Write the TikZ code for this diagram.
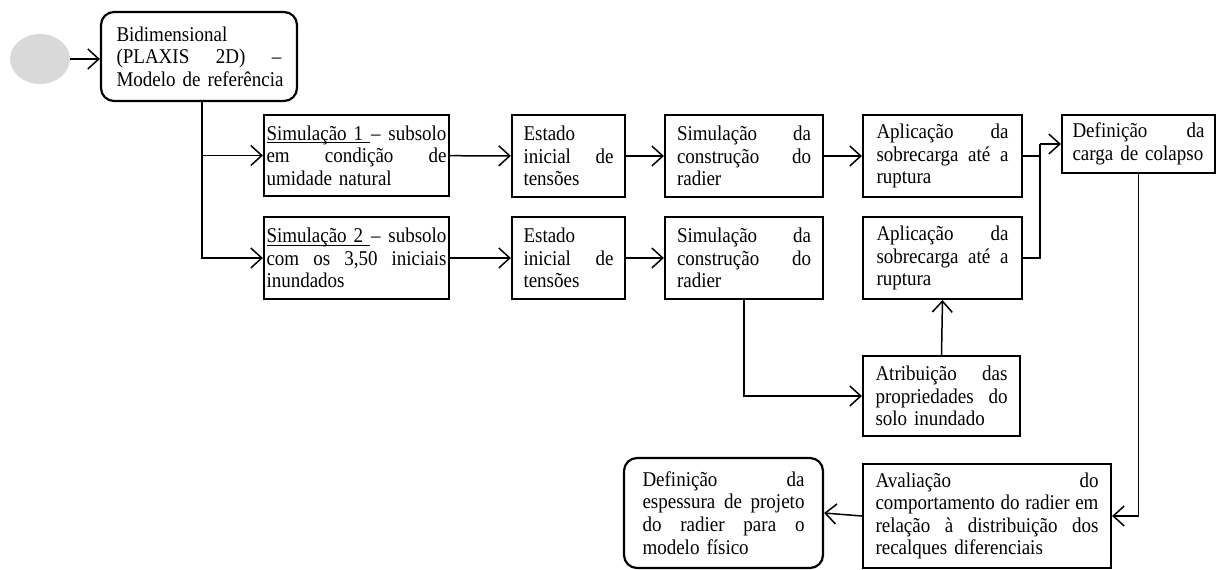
\documentclass[tikz,border=0pt]{standalone}
\usepackage{fontspec}
\setmainfont{Liberation Serif}[FakeStretch=0.905]
\usetikzlibrary{arrows.meta,shapes.geometric}
\definecolor{startgray}{RGB}{217,217,217}
\newcommand{\myul}[1]{\setbox0\hbox{#1}\rlap{\rule[-3pt]{\wd0}{1pt}}\box0}
\begin{document}
\begin{tikzpicture}[x=1pt,y=-1pt,
  box/.style={draw,line width=2.2pt,inner sep=0pt,align=left,font=\fontsize{21}{22.6}\selectfont},
  rbox/.style={box,rounded corners=13pt},
  conn/.style={line width=1.5pt},
  arr/.style={line width=1.5pt,-{Straight Barb[length=11pt,width=20pt]}}]
\useasboundingbox (0,0) rectangle (1218,570);

\node[ellipse,fill=startgray,minimum width=60pt,minimum height=50pt,inner sep=0pt] (start) at (40,59) {};

\node[rbox,minimum width=196pt,minimum height=89pt,text width=165pt] (b1) at (199,56.5)
  {Bidimensional\\ (PLAXIS\hfill 2D)\hfill –\\ \mbox{Modelo de referência}};

\node[box,minimum width=185pt,minimum height=81pt,text width=180pt] (s1) at (356.5,155.5)
  {\myul{Simulação 1 }\hfill– \hfill subsolo\\ em\hfill condição\hfill de\\ \mbox{umidade natural}};
\node[box,minimum width=185pt,minimum height=82pt,text width=180pt] (s2) at (356.5,258)
  {\myul{Simulação 2 }\hfill– \hfill subsolo\\ com\hfill os\hfill 3,50\hfill iniciais\\ inundados};

\node[box,minimum width=113pt,minimum height=82pt,text width=90pt] (e1) at (568.5,156)
  {Estado\\ inicial\hfill de\\ tensões};
\node[box,minimum width=113pt,minimum height=82pt,text width=90pt] (e2) at (568.5,258)
  {Estado\\ inicial\hfill de\\ tensões};

\node[box,minimum width=158pt,minimum height=82pt,text width=134pt] (c1) at (744,156)
  {Simulação\hfill da\\ construção\hfill do\\ radier};
\node[box,minimum width=158pt,minimum height=82pt,text width=134pt] (c2) at (744,258)
  {Simulação\hfill da\\ construção\hfill do\\ radier};

\node[box,minimum width=159pt,minimum height=82pt,text width=132pt] (a1) at (942.5,156)
  {Aplicação\hfill da\\ sobrecarga\hfill até\hfill a\\ ruptura};
\node[box,minimum width=159pt,minimum height=82pt,text width=132pt] (a2) at (942.5,258)
  {Aplicação\hfill da\\ sobrecarga\hfill até\hfill a\\ ruptura};

\node[box,minimum width=153pt,minimum height=58pt,text width=132pt] (d1) at (1138.5,144)
  {Definição\hfill da\\ \mbox{carga de colapso}};

\node[box,minimum width=157pt,minimum height=80pt,text width=132pt] (at) at (941.5,396)
  {Atribuição\hfill das\\ propriedades\hfill do\\ \mbox{solo inundado}};

\node[box,minimum width=248pt,minimum height=104pt,text width=223pt] (av) at (987,516)
  {Avaliação\hfill do\\ comportamento\hfill do\hfill radier\hfill em\\ relação\hfill à\hfill distribuição\hfill dos\\ \mbox{recalques diferenciais}};

\node[rbox,minimum width=199pt,minimum height=110pt,text width=162pt] (de) at (723.5,513)
  {Definição\hfill da\\ espessura\hfill de\hfill projeto\\ do\hfill radier\hfill para\hfill o\\ \mbox{modelo físico}};

\coordinate (j) at (1040,144);

\draw[arr] (start.east) -- (b1.west |- start.east);
\draw[arr] ([xshift=3pt]b1.south) |- (s1.west);
\draw[arr] ([xshift=3pt]b1.south) |- (s2.west);
\draw[arr] (s1) -- (e1);
\draw[arr] (e1) -- (c1);
\draw[arr] (c1) -- (a1);
\draw[arr] (s2) -- (e2);
\draw[arr] (e2) -- (c2);
\draw[conn] (a1.east) -| (j);
\draw[conn] (a2.east) -| (j);
\draw[arr] (j) -- (d1.west);
\draw[arr] (c2.south) |- (at.west);
\draw[arr] (at.north) -- (a2.south);
\draw[arr] (d1.south) |- (av.east);
\draw[arr] (av.west) -- (de.east);
\end{tikzpicture}
\end{document}
